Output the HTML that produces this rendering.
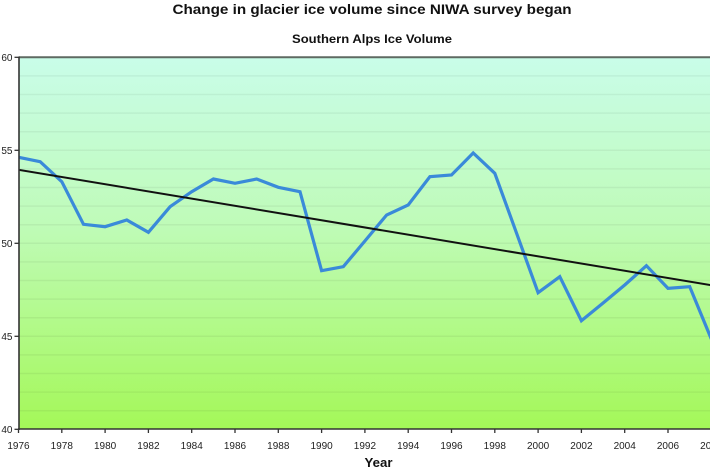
<!DOCTYPE html>
<html>
<head>
<meta charset="utf-8">
<style>
  html,body{margin:0;padding:0;background:#fff;}
  svg{display:block;}
  text{font-family:"Liberation Sans",Arial,sans-serif;}
</style>
</head>
<body>
<svg width="710" height="473" viewBox="0 0 710 473" xmlns="http://www.w3.org/2000/svg">
  <defs>
    <linearGradient id="bg" x1="0" y1="0" x2="0" y2="1">
      <stop offset="0" stop-color="#c9fde9"/>
      <stop offset="0.45" stop-color="#bffbb8"/>
      <stop offset="1" stop-color="#a4f858"/>
    </linearGradient>
    <clipPath id="plot"><rect x="19" y="57" width="700" height="372"/></clipPath>
  </defs>
  <rect width="710" height="473" fill="#fff"/>

  <!-- titles -->
  <text x="372" y="14" font-size="14" font-weight="bold" text-anchor="middle" fill="#111" textLength="399" lengthAdjust="spacingAndGlyphs">Change in glacier ice volume since NIWA survey began</text>
  <text x="372" y="43" font-size="12" font-weight="bold" text-anchor="middle" fill="#111" textLength="160" lengthAdjust="spacingAndGlyphs">Southern Alps Ice Volume</text>

  <!-- plot background -->
  <rect x="19" y="57.3" width="700" height="372" fill="url(#bg)"/>

  <!-- gridlines every 1 unit -->
  <g stroke="#000" stroke-opacity="0.05" stroke-width="1.5">
    <line x1="19" x2="710" y1="75.9" y2="75.9"/>
    <line x1="19" x2="710" y1="94.5" y2="94.5"/>
    <line x1="19" x2="710" y1="113.1" y2="113.1"/>
    <line x1="19" x2="710" y1="131.7" y2="131.7"/>
    <line x1="19" x2="710" y1="150.3" y2="150.3"/>
    <line x1="19" x2="710" y1="168.9" y2="168.9"/>
    <line x1="19" x2="710" y1="187.5" y2="187.5"/>
    <line x1="19" x2="710" y1="206.1" y2="206.1"/>
    <line x1="19" x2="710" y1="224.7" y2="224.7"/>
    <line x1="19" x2="710" y1="243.3" y2="243.3"/>
    <line x1="19" x2="710" y1="261.9" y2="261.9"/>
    <line x1="19" x2="710" y1="280.5" y2="280.5"/>
    <line x1="19" x2="710" y1="299.1" y2="299.1"/>
    <line x1="19" x2="710" y1="317.7" y2="317.7"/>
    <line x1="19" x2="710" y1="336.3" y2="336.3"/>
    <line x1="19" x2="710" y1="354.9" y2="354.9"/>
    <line x1="19" x2="710" y1="373.5" y2="373.5"/>
    <line x1="19" x2="710" y1="392.1" y2="392.1"/>
    <line x1="19" x2="710" y1="410.7" y2="410.7"/>
  </g>

  <!-- top border -->
  <line x1="19" x2="710" y1="57.3" y2="57.3" stroke="#5f6a62" stroke-width="2"/>

  <g clip-path="url(#plot)">
    <!-- data line -->
    <polyline fill="none" stroke="#3a8ad9" stroke-width="3.2" stroke-linejoin="miter" stroke-linecap="butt"
      points="18.5,157.3 40.2,161.7 61.8,181.7 83.5,224.3 105.1,226.7 126.8,220 148.4,232.3 170.1,206.7 191.7,191.7 213.4,179 235,183.3 256.7,179 278.3,187.3 300,191.7 321.6,270.7 343.3,266.7 364.9,241 386.6,215 408.2,205 429.9,176.7 451.5,175 473.2,153 494.8,173.3 516.5,233 538.1,292.7 559.8,276.7 581.4,320.7 603.1,303 624.7,285 646.4,265.7 668,288.3 689.7,286.7 711.3,339"/>
    <!-- trend line -->
    <line x1="18.5" y1="169.75" x2="711.3" y2="285.2" stroke="#111" stroke-width="2"/>
  </g>

  <!-- axes -->
  <line x1="19" x2="19" y1="56.5" y2="430" stroke="#333" stroke-width="1.6"/>
  <line x1="18" x2="710" y1="429" y2="429" stroke="#333" stroke-width="1.6"/>

  <!-- y ticks -->
  <g stroke="#333" stroke-width="1.3">
    <line x1="14.5" x2="19" y1="57.3" y2="57.3"/>
    <line x1="14.5" x2="19" y1="150.3" y2="150.3"/>
    <line x1="14.5" x2="19" y1="243.3" y2="243.3"/>
    <line x1="14.5" x2="19" y1="336.3" y2="336.3"/>
    <line x1="14.5" x2="19" y1="429.3" y2="429.3"/>
  </g>
  <g font-size="10" fill="#222" text-anchor="end">
    <text x="12.5" y="61">60</text>
    <text x="12.5" y="154">55</text>
    <text x="12.5" y="247">50</text>
    <text x="12.5" y="340">45</text>
    <text x="12.5" y="433">40</text>
  </g>

  <!-- x ticks -->
  <g stroke="#333" stroke-width="1.3">
    <line x1="18.5" x2="18.5" y1="429" y2="433"/>
    <line x1="61.8" x2="61.8" y1="429" y2="433"/>
    <line x1="105.1" x2="105.1" y1="429" y2="433"/>
    <line x1="148.4" x2="148.4" y1="429" y2="433"/>
    <line x1="191.7" x2="191.7" y1="429" y2="433"/>
    <line x1="235" x2="235" y1="429" y2="433"/>
    <line x1="278.3" x2="278.3" y1="429" y2="433"/>
    <line x1="321.6" x2="321.6" y1="429" y2="433"/>
    <line x1="364.9" x2="364.9" y1="429" y2="433"/>
    <line x1="408.2" x2="408.2" y1="429" y2="433"/>
    <line x1="451.5" x2="451.5" y1="429" y2="433"/>
    <line x1="494.8" x2="494.8" y1="429" y2="433"/>
    <line x1="538.1" x2="538.1" y1="429" y2="433"/>
    <line x1="581.4" x2="581.4" y1="429" y2="433"/>
    <line x1="624.7" x2="624.7" y1="429" y2="433"/>
    <line x1="668" x2="668" y1="429" y2="433"/>
  </g>
  <g font-size="10" fill="#222" text-anchor="middle">
    <text x="18.5" y="449">1976</text>
    <text x="61.8" y="449">1978</text>
    <text x="105.1" y="449">1980</text>
    <text x="148.4" y="449">1982</text>
    <text x="191.7" y="449">1984</text>
    <text x="235" y="449">1986</text>
    <text x="278.3" y="449">1988</text>
    <text x="321.6" y="449">1990</text>
    <text x="364.9" y="449">1992</text>
    <text x="408.2" y="449">1994</text>
    <text x="451.5" y="449">1996</text>
    <text x="494.8" y="449">1998</text>
    <text x="538.1" y="449">2000</text>
    <text x="581.4" y="449">2002</text>
    <text x="624.7" y="449">2004</text>
    <text x="668" y="449">2006</text>
    <text x="711.3" y="449">2008</text>
  </g>

  <!-- x-axis title -->
  <text x="378.5" y="467" font-size="13" font-weight="bold" text-anchor="middle" fill="#111" textLength="28" lengthAdjust="spacingAndGlyphs">Year</text>
</svg>
</body>
</html>
